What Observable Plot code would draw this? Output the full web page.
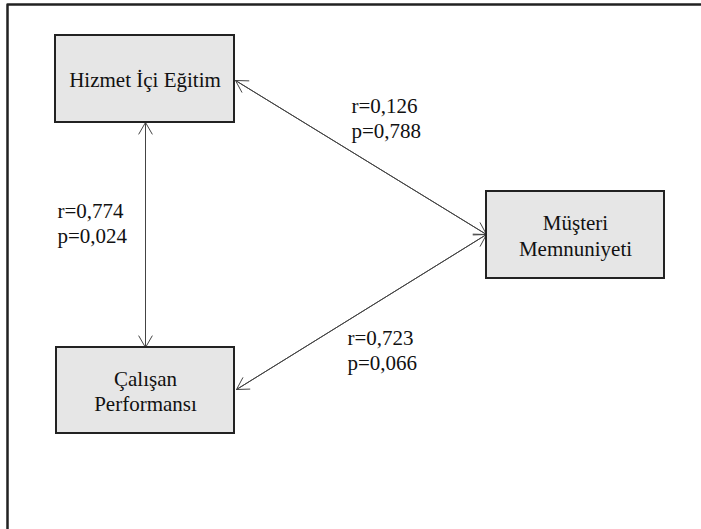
<!DOCTYPE html>
<html>
<head>
<meta charset="utf-8">
<script src="https://cdn.jsdelivr.net/npm/d3@7"></script>
<script src="https://cdn.jsdelivr.net/npm/@observablehq/plot@0.6"></script>
<style>
  html, body { margin: 0; padding: 0; background: #fff; overflow: hidden; }
  svg { display: block; }
</style>
</head>
<body>
<div id="chart"></div>
<script>
// Diagram data: constructs (nodes), their box extents in diagram units, and correlations
const nodeNames = ["Hizmet İçi Eğitim", "Müşteri\nMemnuniyeti", "Çalışan\nPerformansı"];
const nodeX1 = [55, 486, 56];
const nodeX2 = [234, 664, 234];
const nodeY1 = [35, 191, 347];
const nodeY2 = [122, 278, 433];

// Links between nodes (two-headed arrows): endpoints in diagram units
const linkFrom = [[235, 80], [145, 122], [486, 234]];
const linkTo = [[486, 234], [145, 347], [236, 389]];

// Correlation labels
const corrR = ["0,126", "0,774", "0,723"];
const corrP = ["0,788", "0,024", "0,066"];
const labelPos = [[351, 117], [57, 222], [347, 349]];

const nodes = nodeNames.map((name, i) => ({
  name, x1: nodeX1[i], x2: nodeX2[i], y1: nodeY1[i], y2: nodeY2[i],
  cx: (nodeX1[i] + nodeX2[i]) / 2, cy: (nodeY1[i] + nodeY2[i]) / 2
}));
const arrows = [];
linkFrom.forEach((a, i) => {
  const b = linkTo[i];
  arrows.push({x1: a[0], y1: a[1], x2: b[0], y2: b[1]});
  arrows.push({x1: b[0], y1: b[1], x2: a[0], y2: a[1]});
});
const labels = corrR.map((r, i) => ({
  text: `r=${r}\np=${corrP[i]}`, x: labelPos[i][0], y: labelPos[i][1]
}));
const frame = [{x: 7, y: 529}, {x: 7, y: 4}, {x: 701, y: 4}];

const W = 701, H = 529;
const font = "Times New Roman, Liberation Serif, DejaVu Serif, serif";

const chart = Plot.plot({
  width: W,
  height: H,
  margin: 0,
  x: {domain: [0, W], range: [0, W], axis: null},
  y: {domain: [0, H], range: [0, H], axis: null},
  style: {background: "#fff", fontFamily: font},
  marks: [
    // outer frame
    Plot.line(frame, {x: "x", y: "y", stroke: "#222", strokeWidth: 2.5}),
    // arrows
    Plot.arrow(arrows, {
      x1: "x1", y1: "y1", x2: "x2", y2: "y2",
      stroke: "#444", strokeWidth: 1, headLength: 20, headAngle: 60
    }),
    // boxes
    Plot.rect(nodes, {
      x1: "x1", x2: "x2", y1: "y1", y2: "y2",
      fill: "#e6e6e6", stroke: "#222", strokeWidth: 2
    }),
    Plot.text(nodes, {
      x: "cx", y: "cy", text: "name", fontFamily: font,
      fontSize: 21, fill: "#111", lineHeight: 1.2
    }),
    // correlation labels
    Plot.text(labels, {
      x: "x", y: "y", text: "text", textAnchor: "start", fontFamily: font,
      fontSize: 21, fill: "#111", lineHeight: 1.2
    })
  ]
});
document.getElementById("chart").appendChild(chart);
</script>
</body>
</html>
